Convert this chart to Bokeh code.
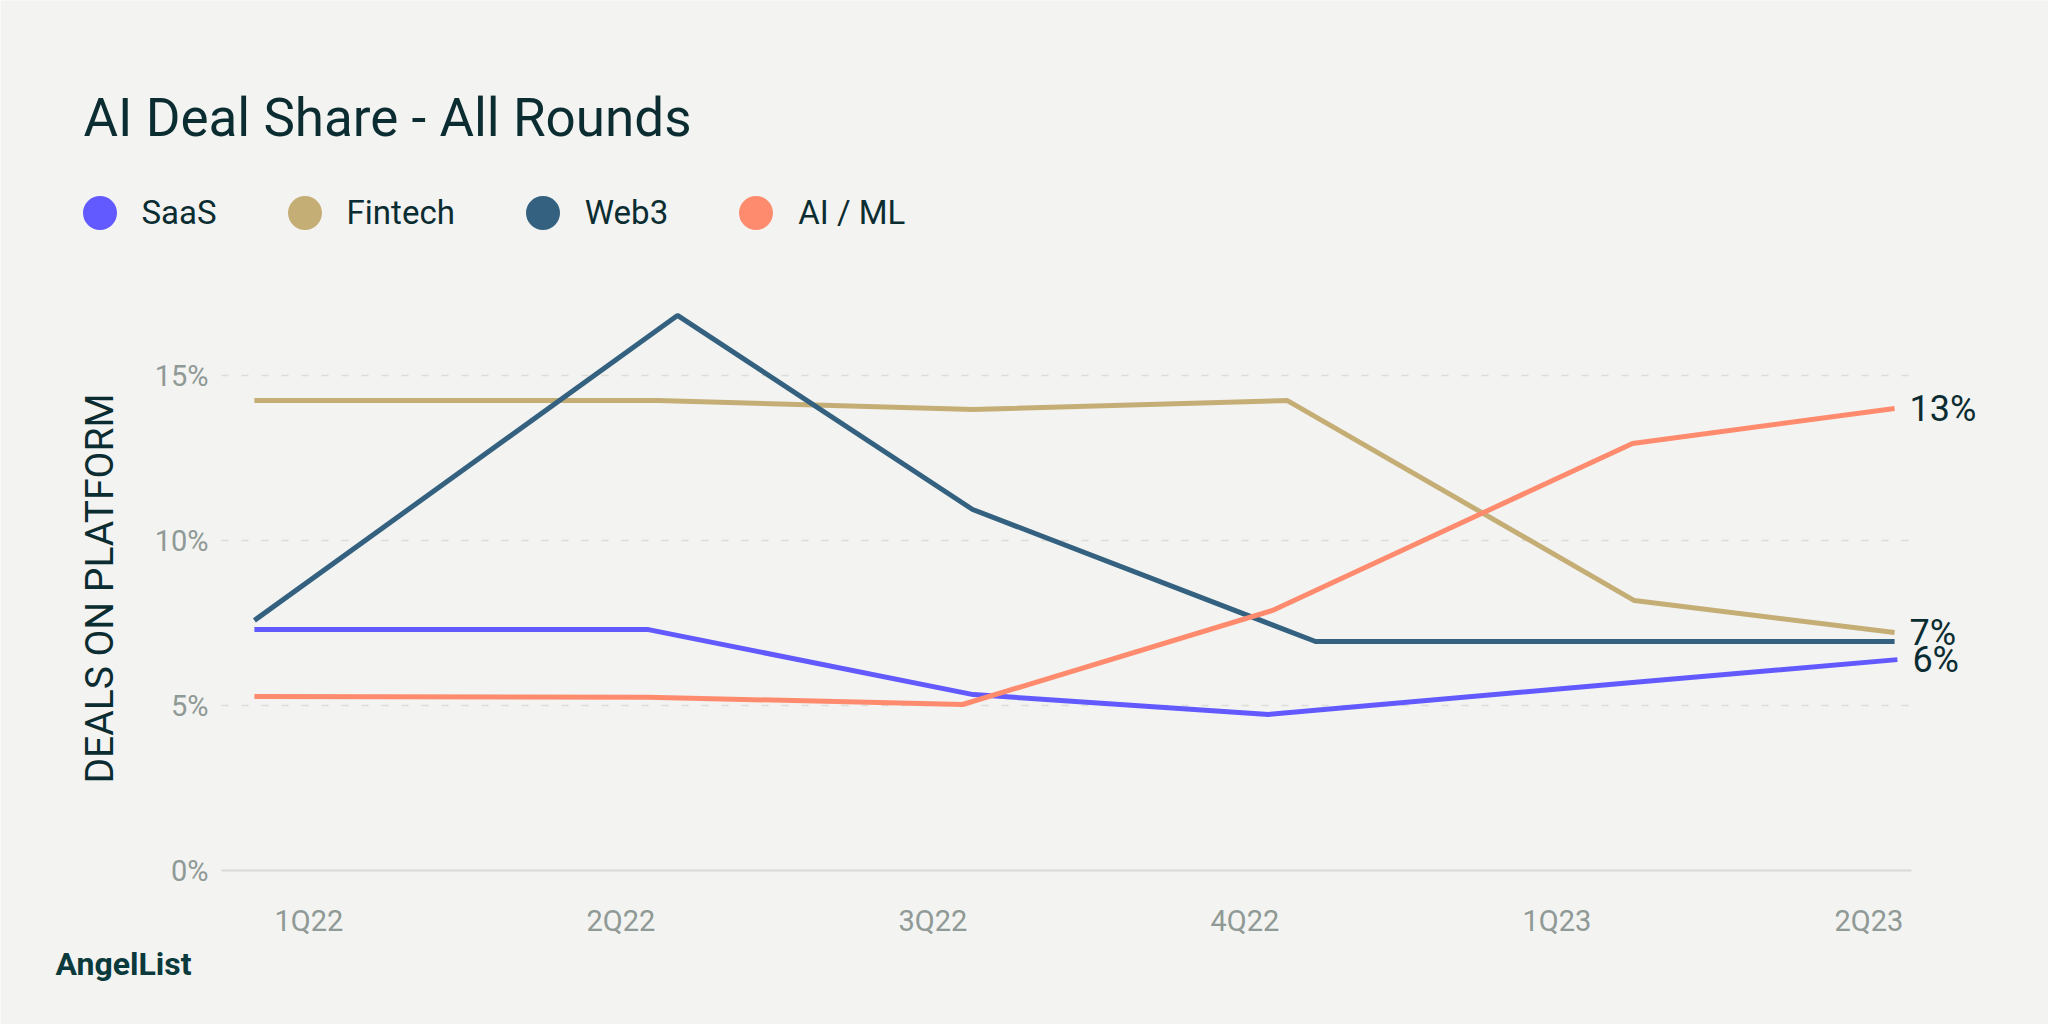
import math
from bokeh.plotting import figure
from bokeh.models import (Range1d, FixedTicker, Label, Legend, LegendItem, Grid, ColumnDataSource)
from bokeh.embed import file_html
from bokeh.resources import INLINE
from bokeh.core.properties import value

# ---------------- data ----------------
TITLE = "AI Deal Share - All Rounds"
Y_LABEL = "DEALS ON PLATFORM"
BRAND = "AngelList"
quarters = ["1Q22", "2Q22", "3Q22", "4Q22", "1Q23", "2Q23"]
y_ticks = [0, 5, 10, 15]
y_tick_labels = ["0%", "5%", "10%", "15%"]

series_names = ["SaaS", "Fintech", "Web3", "AI / ML"]
# x in quarters (0 = 1Q22 tick), y in % of deals on platform
saas_x = [-0.175, 1.088, 2.129, 3.075, 4.242, 5.091]
saas_y = [7.30, 7.30, 5.33, 4.73, 5.70, 6.39]
fintech_x = [-0.175, 1.117, 2.129, 3.136, 4.248, 5.082]
fintech_y = [14.24, 14.24, 13.97, 14.24, 8.18, 7.21]
web3_x = [-0.175, 1.181, 2.127, 3.226, 4.248, 5.082]
web3_y = [7.58, 16.82, 10.94, 6.94, 6.94, 6.94]
ai_x = [-0.175, 1.088, 2.095, 3.088, 4.242, 5.082]
ai_y = [5.27, 5.25, 5.03, 7.88, 12.94, 14.00]

end_label_series = ["AI / ML", "Fintech", "SaaS"]
end_label_text = ["13%", "7%", "6%"]

# ---------------- style / layout ----------------
BG = "#f3f3f1"
DARK = "#0b2d31"
GRAY = "#8f9995"
GRID = "#dcdcd8"
COLORS = {"SaaS": "#6259ff", "Fintech": "#c5ae76", "Web3": "#33617f", "AI / ML": "#ff8b6f"}
FONT = "Roboto"

W, H = 2048, 1024
PLOT_L, PLOT_R, ZERO_Y = 221, 1911, 870     # pixel geometry of the plotting area
PX_PER_PCT = 33.0
PX_PER_Q = 312.0
Q0_PX = 308.5                               # pixel x of the 1Q22 tick

def px_to_x(px):
    return (px - Q0_PX) / PX_PER_Q

xa, xb = px_to_x(PLOT_L), px_to_x(PLOT_R)

# the frame covers the whole canvas; axes sit at fixed locations inside it
p = figure(width=W, height=H,
           x_range=Range1d(px_to_x(0), px_to_x(W)),
           y_range=Range1d(-(H - ZERO_Y) / PX_PER_PCT, ZERO_Y / PX_PER_PCT),
           output_backend="svg", toolbar_location=None, min_border=0,
           background_fill_color=BG, border_fill_color=BG, outline_line_color=None)

# axes
p.xaxis.fixed_location = 0
p.xaxis.bounds = (xa, xb)
p.xaxis.ticker = FixedTicker(ticks=list(range(len(quarters))))
p.xaxis.major_label_overrides = {i: q for i, q in enumerate(quarters)}
p.yaxis.fixed_location = xa
p.yaxis.bounds = (0, 15)
p.yaxis.ticker = FixedTicker(ticks=y_ticks)
p.yaxis.major_label_overrides = {t: l for t, l in zip(y_ticks, y_tick_labels)}
for ax in (p.xaxis, p.yaxis):
    ax.major_tick_line_color = None
    ax.minor_tick_line_color = None
    ax.major_label_text_font = FONT
    ax.major_label_text_font_size = "29px"
    ax.major_label_text_color = GRAY
p.yaxis.axis_line_color = None
p.yaxis.major_label_standoff = 7
p.xaxis.axis_line_color = "#d9d9d5"
p.xaxis.axis_line_width = 2
p.xaxis.major_label_standoff = 27

# grid
p.xgrid.visible = False
grid_ticks = [5, 10, 15]
if "cross_bounds" in Grid.properties():
    p.ygrid.ticker = FixedTicker(ticks=grid_ticks)
    p.ygrid.cross_bounds = (xa, xb)
    p.ygrid.grid_line_color = GRID
    p.ygrid.grid_line_width = 1.5
    p.ygrid.grid_line_dash = "7 13"
else:
    p.ygrid.visible = False
    p.segment(x0=[xa] * 3, x1=[xb] * 3, y0=grid_ticks, y1=grid_ticks,
              line_color=GRID, line_width=1.5, line_dash="7 13")

# lines
series = {
    "SaaS": (saas_x, saas_y),
    "Fintech": (fintech_x, fintech_y),
    "Web3": (web3_x, web3_y),
    "AI / ML": (ai_x, ai_y),
}
items = []
for name in series_names:
    xs, ys = series[name]
    p.line(xs, ys, line_color=COLORS[name], line_width=5)
    # zero-size markers: only used as round legend handles
    handle = p.scatter(xs, ys, size=0, marker="circle", fill_color=COLORS[name], line_color=None)
    items.append(LegendItem(label=name, renderers=[handle]))

legend = Legend(items=items, orientation="horizontal", location=(56.5, H - 254.5),
                glyph_width=85, glyph_height=85, label_standoff=0, spacing=45,
                padding=0, margin=0, border_line_color=None, background_fill_alpha=0,
                label_text_font=FONT, label_text_font_size="33px", label_text_color=DARK)
p.add_layout(legend)

# end-of-line value labels
end_src = ColumnDataSource(dict(
    x=[series[n][0][-1] for n in end_label_series],
    y=[series[n][1][-1] for n in end_label_series],
    text=end_label_text))
p.text(x="x", y="y", text="text", source=end_src, x_offset=15, text_font=value(FONT),
       text_font_size="36px", text_color=DARK, text_baseline="middle", text_align="left")

# texts
p.add_layout(Label(x=83, y=H - 117, x_units="screen", y_units="screen", text=TITLE,
                   text_font=FONT, text_font_size="53px", text_color=DARK,
                   text_baseline="alphabetic", text_align="left"))
p.add_layout(Label(x=99, y=H - 588, x_units="screen", y_units="screen", text=Y_LABEL,
                   angle=math.pi / 2, text_font=FONT, text_font_size="39px", text_color=DARK,
                   text_baseline="alphabetic", text_align="center"))
p.add_layout(Label(x=55, y=H - 963, x_units="screen", y_units="screen", text=BRAND,
                   text_font=FONT, text_font_size="32px", text_font_style="bold",
                   text_color="#0b3a3c", text_baseline="alphabetic", text_align="left"))

open("out.html", "w").write(file_html(p, INLINE))
